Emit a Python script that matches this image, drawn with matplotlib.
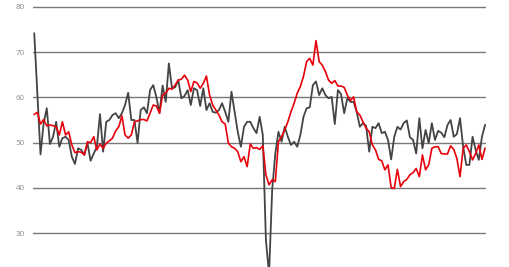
import matplotlib
matplotlib.use("Agg")
import matplotlib.pyplot as plt
import numpy as np

# monthly index values
dark_series = [
    74.1, 60.7, 47.4, 54.3, 57.6, 49.7, 51.3, 54.6, 49.1, 51.0, 51.3, 50.6, 46.9, 45.3, 48.75,
    48.4, 47.3, 49.9, 46.0, 47.6, 49.1, 56.3, 48.0, 54.6, 55.0, 56.1, 56.5, 55.4, 56.5, 58.3,
    61.0, 55.0, 55.0, 49.9, 57.2, 57.8, 56.5, 61.6, 62.7, 60.1, 56.5, 62.6, 59.0, 67.5,
    62.0, 62.2, 63.8, 59.8, 60.3, 61.6, 58.3, 62.0, 61.6, 58.1, 62.0, 57.2, 58.7, 56.8, 56.6,
    57.2, 58.7, 56.8, 54.6, 61.25, 56.8, 52.4, 49.1, 53.5, 54.6, 54.6, 53.2, 52.1, 55.7, 51.7,
    28.5, 21.0, 39.6, 47.6, 52.4, 50.2, 53.5, 51.3, 49.5, 50.2, 49.1, 51.7, 55.7, 57.6, 57.8,
    62.7, 63.5, 60.5, 62.0, 60.5, 59.8, 60.1, 54.1, 61.6, 60.7,
    56.5, 59.8, 59.0, 59.0, 56.8, 53.5, 54.3, 53.7, 48.0, 53.5, 53.2, 54.3, 52.1, 52.4, 50.6,
    46.3, 51.3, 53.5, 52.9, 54.3, 54.9, 51.2, 50.6, 47.6, 55.4, 48.75, 52.8, 49.9, 54.3, 50.6,
    52.6, 52.2, 51.2, 53.9, 55.0, 51.3, 51.9, 55.4, 49.1, 45.1, 45.1, 51.3, 48.4, 46.2, 51.3,
    53.9,
]
red_series = [
    56.25, 56.7, 54.1, 55.1, 53.7, 53.9, 53.75, 53.5, 51.7, 54.6, 51.7, 52.4, 49.5, 47.8, 48.0,
    47.9, 47.3, 50.2, 50.0, 51.3, 48.4, 49.7, 48.75, 49.9, 50.4, 51.0, 52.6, 53.5, 55.9, 51.7,
    51.0, 51.7, 54.6, 54.8, 55.1, 55.1, 54.8, 56.5, 58.3, 58.1, 56.5, 60.5, 60.9, 62.0,
    61.8, 62.7, 63.8, 64.0, 64.9, 63.8, 61.25, 63.5, 63.2, 62.0, 63.1, 64.7, 60.5, 58.3, 57.2,
    56.1, 54.6, 54.1, 49.9, 49.1, 48.75, 48.0, 45.8, 46.9, 44.7, 49.7, 48.75, 48.9, 48.5, 49.3,
    42.9, 40.7, 41.8, 41.4, 50.2, 51.3, 52.8, 54.6, 56.8, 58.7, 60.9, 62.4, 64.6, 67.9, 68.6,
    67.1, 72.5, 67.9, 67.1, 65.7, 63.8, 63.1, 63.7, 62.5, 62.5,
    62.2, 60.5, 59.3, 60.1, 56.8, 56.1, 54.6, 53.2, 52.4, 49.5, 48.4, 46.3, 46.0, 44.0, 45.1,
    40.1, 39.9, 44.1, 40.3, 41.4, 41.9, 42.9, 43.4, 44.3, 42.5, 47.3, 44.0, 45.1, 48.75, 49.1,
    49.1, 47.6, 47.5, 47.5, 49.3, 48.5, 46.5, 42.5, 48.75, 49.5, 48.0, 46.2, 47.6, 49.5, 46.3,
    48.75,
]
y_ticks = [30, 40, 50, 60, 70, 80]

months = np.arange(len(dark_series))

fig = plt.figure(figsize=(5.1, 2.67), dpi=100)
ax = fig.add_axes([33 / 510, 0, 453 / 510, 1])

ax.plot(months, dark_series, color="#444444", lw=1.3, zorder=3)
ax.plot(months, red_series, color="#e8000b", lw=1.2, zorder=4)

ax.set_xlim(-0.4, len(months) - 0.7)
ax.set_ylim(22.56, 81.48)
ax.set_yticks(y_ticks)
ax.set_yticklabels([str(t) for t in y_ticks], fontfamily="Open Sans", fontsize=5.8, color="#8c8c8c")
ax.set_xticks([])
ax.tick_params(axis="y", length=0, pad=6)
ax.yaxis.grid(True, color="#7a7a7a", lw=1.0, zorder=1)
for s in ax.spines.values():
    s.set_visible(False)

fig.savefig("out.png", dpi=100)
